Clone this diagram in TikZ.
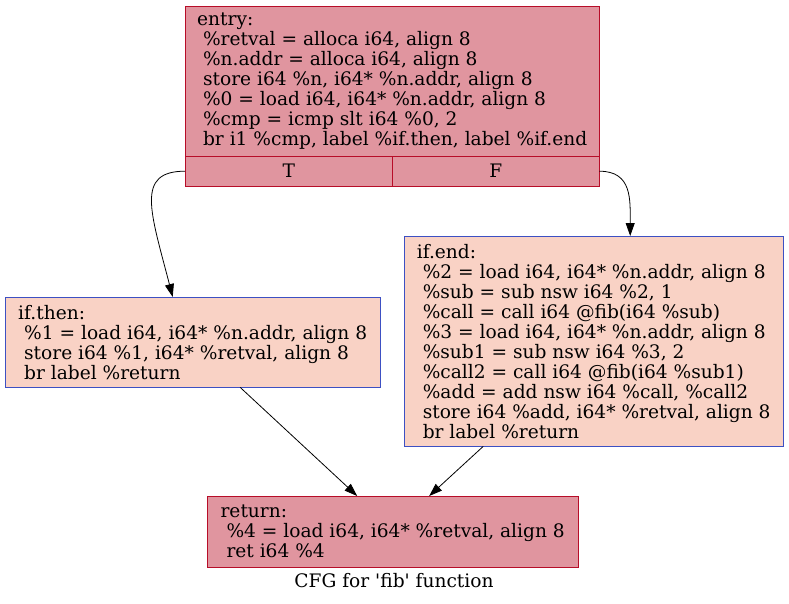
\documentclass[tikz,border=0pt]{standalone}
\usepackage{fontspec}
\setmainfont{DejaVu Serif}
\usepackage{tikz}
\usetikzlibrary{arrows.meta}
\definecolor{hotfill}{HTML}{E0959F}
\definecolor{hotline}{HTML}{B70D28}
\definecolor{coolfill}{HTML}{F9D2C5}
\definecolor{coolline}{HTML}{3D50C3}
\tikzset{
  block/.style={draw, rectangle, anchor=north west, inner sep=0pt,
    font=\fontsize{18.6}{20}\selectfont, align=left},
  hot/.style={block, fill=hotfill, draw=hotline},
  cool/.style={block, fill=coolfill, draw=coolline},
  edge/.style={-{Triangle[length=13pt,width=9pt]}, line width=0.8pt},
}

\begin{document}
\begin{tikzpicture}[x=1pt,y=-1pt]
  \useasboundingbox (0,0) rectangle (789,604);
  % entry block with its T/F ports
  \node[hot, minimum width=414pt, minimum height=150pt] (entry) at (185,6)
    {entry:\\
     \ \%retval = alloca i64, align 8\\
     \ \%n.addr = alloca i64, align 8\\
     \ store i64 \%n, i64* \%n.addr, align 8\\
     \ \%0 = load i64, i64* \%n.addr, align 8\\
     \ \%cmp = icmp slt i64 \%0, 2\\
     \ br i1 \%cmp, label \%if.then, label \%if.end};
  \node[hot, minimum width=207pt, minimum height=30pt, align=center] (entryT) at (185,156) {T};
  \node[hot, minimum width=207pt, minimum height=30pt, align=center] (entryF) at (392,156) {F};
  % successors
  \node[cool, minimum width=375pt, minimum height=90pt] (ifthen) at (5,297)
    {if.then:\\
     \ \%1 = load i64, i64* \%n.addr, align 8\\
     \ store i64 \%1, i64* \%retval, align 8\\
     \ br label \%return};
  \node[cool, minimum width=379pt, minimum height=210pt] (ifend) at (404,236)
    {if.end:\\
     \ \%2 = load i64, i64* \%n.addr, align 8\\
     \ \%sub = sub nsw i64 \%2, 1\\
     \ \%call = call i64 @fib(i64 \%sub)\\
     \ \%3 = load i64, i64* \%n.addr, align 8\\
     \ \%sub1 = sub nsw i64 \%3, 2\\
     \ \%call2 = call i64 @fib(i64 \%sub1)\\
     \ \%add = add nsw i64 \%call, \%call2\\
     \ store i64 \%add, i64* \%retval, align 8\\
     \ br label \%return};
  \node[hot, minimum width=371pt, minimum height=71pt] (return) at (207,496)
    {return:\\
     \ \%4 = load i64, i64* \%retval, align 8\\
     \ ret i64 \%4};
  \node[font=\fontsize{18.6}{20}\selectfont] (caption) at (394,581)
    {CFG for \textquotesingle fib\textquotesingle\ function};
  % edges
  \draw[edge] (entryT.west) .. controls +(-50,0) and +(-22,-85) .. ([xshift=-20pt]ifthen.north);
  \draw[edge] (entryF.east) .. controls +(33,0) and +(0,-36) .. ([xshift=36.5pt]ifend.north);
  \draw[edge] ([xshift=47.5pt]ifthen.south) -- ([xshift=-35.5pt]return.north);
  \draw[edge] ([xshift=-110.5pt]ifend.south) -- ([xshift=36.5pt]return.north);
\end{tikzpicture}
\end{document}
